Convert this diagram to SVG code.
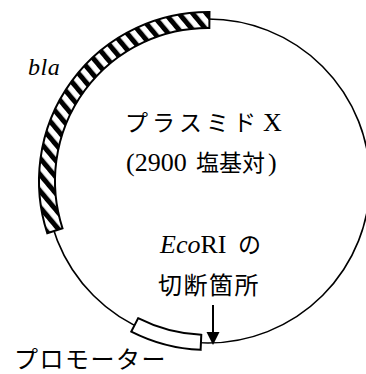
<svg xmlns="http://www.w3.org/2000/svg" width="366" height="374" viewBox="0 0 366 374">
  <style>
    .ring { fill: none; stroke: #000; stroke-width: 1.6; }
    .band { stroke: #000; stroke-width: 2; stroke-linejoin: miter; }
    .jp { font-family: "Noto Sans CJK JP", "Liberation Serif", serif; fill: #000; }
    .lat { font-family: "Liberation Serif", "Noto Sans CJK JP", serif; }
    .ital { font-style: italic; }
    .arrowline { stroke: #000; stroke-width: 2; fill: none; }
  </style>
  <defs>
    <pattern id="hatch" patternUnits="userSpaceOnUse" width="10.5" height="10.5" patternTransform="rotate(-40)">
      <rect x="0" y="0" width="10.5" height="10.5" fill="#fff"/>
      <rect x="0" y="0" width="5" height="10.5" fill="#000"/>
    </pattern>
  </defs>
  <rect width="366" height="374" fill="#fff"/>

  <g id="plasmid">
    <circle class="ring" cx="208" cy="181" r="162"/>
  </g>

  <g id="bla-gene">
    <path class="band" fill="url(#hatch)" d="M47.27 233.22 A169 169 0 0 1 209.48 12.01 L209.34 28.01 A153 153 0 0 0 62.48 228.28 Z"/>
  </g>

  <g id="promoter">
    <path class="band" fill="#fff" d="M200.63 349.84 A169 169 0 0 1 131.28 331.58 L138.09 318.22 A154 154 0 0 0 201.28 334.85 Z"/>
  </g>

  <g id="label-bla">
    <text class="lat ital" font-family="Liberation Serif, serif" x="28" y="75" font-size="24" letter-spacing="0.5">bla</text>
  </g>

  <g id="label-plasmid">
    <text class="jp" y="131" font-size="23"><tspan x="125">プ</tspan><tspan x="152">ラ</tspan><tspan x="179">ス</tspan><tspan x="206">ミ</tspan><tspan x="233">ド</tspan><tspan class="lat" font-family="Liberation Serif, serif" x="263" font-size="26">X</tspan></text>
    <text class="jp" y="171" font-size="23"><tspan class="lat" font-family="Liberation Serif, serif" x="126" font-size="26">(2900</tspan><tspan x="196">塩基対</tspan><tspan class="lat" font-family="Liberation Serif, serif" x="268" font-size="26">)</tspan></text>
  </g>

  <g id="label-ecori">
    <text class="jp" y="253" font-size="23"><tspan class="lat ital" font-family="Liberation Serif, serif" x="160" font-size="26">Eco</tspan><tspan class="lat" font-family="Liberation Serif, serif" font-size="26">RI</tspan><tspan x="238">の</tspan></text>
    <text class="jp" x="158" y="294" font-size="24" letter-spacing="1.5">切断箇所</text>
  </g>

  <g id="label-promoter">
    <text class="jp" y="368" font-size="24"><tspan x="14">プ</tspan><tspan x="39.5">ロ</tspan><tspan x="65">モ</tspan><tspan x="90.5">ー</tspan><tspan x="116">タ</tspan><tspan x="141.5">ー</tspan></text>
  </g>

  <g id="connectors">
    <line class="arrowline" x1="213" y1="305" x2="213" y2="334"/>
    <polygon points="206.5,332 219.5,332 213,345" fill="#000"/>
  </g>
</svg>
